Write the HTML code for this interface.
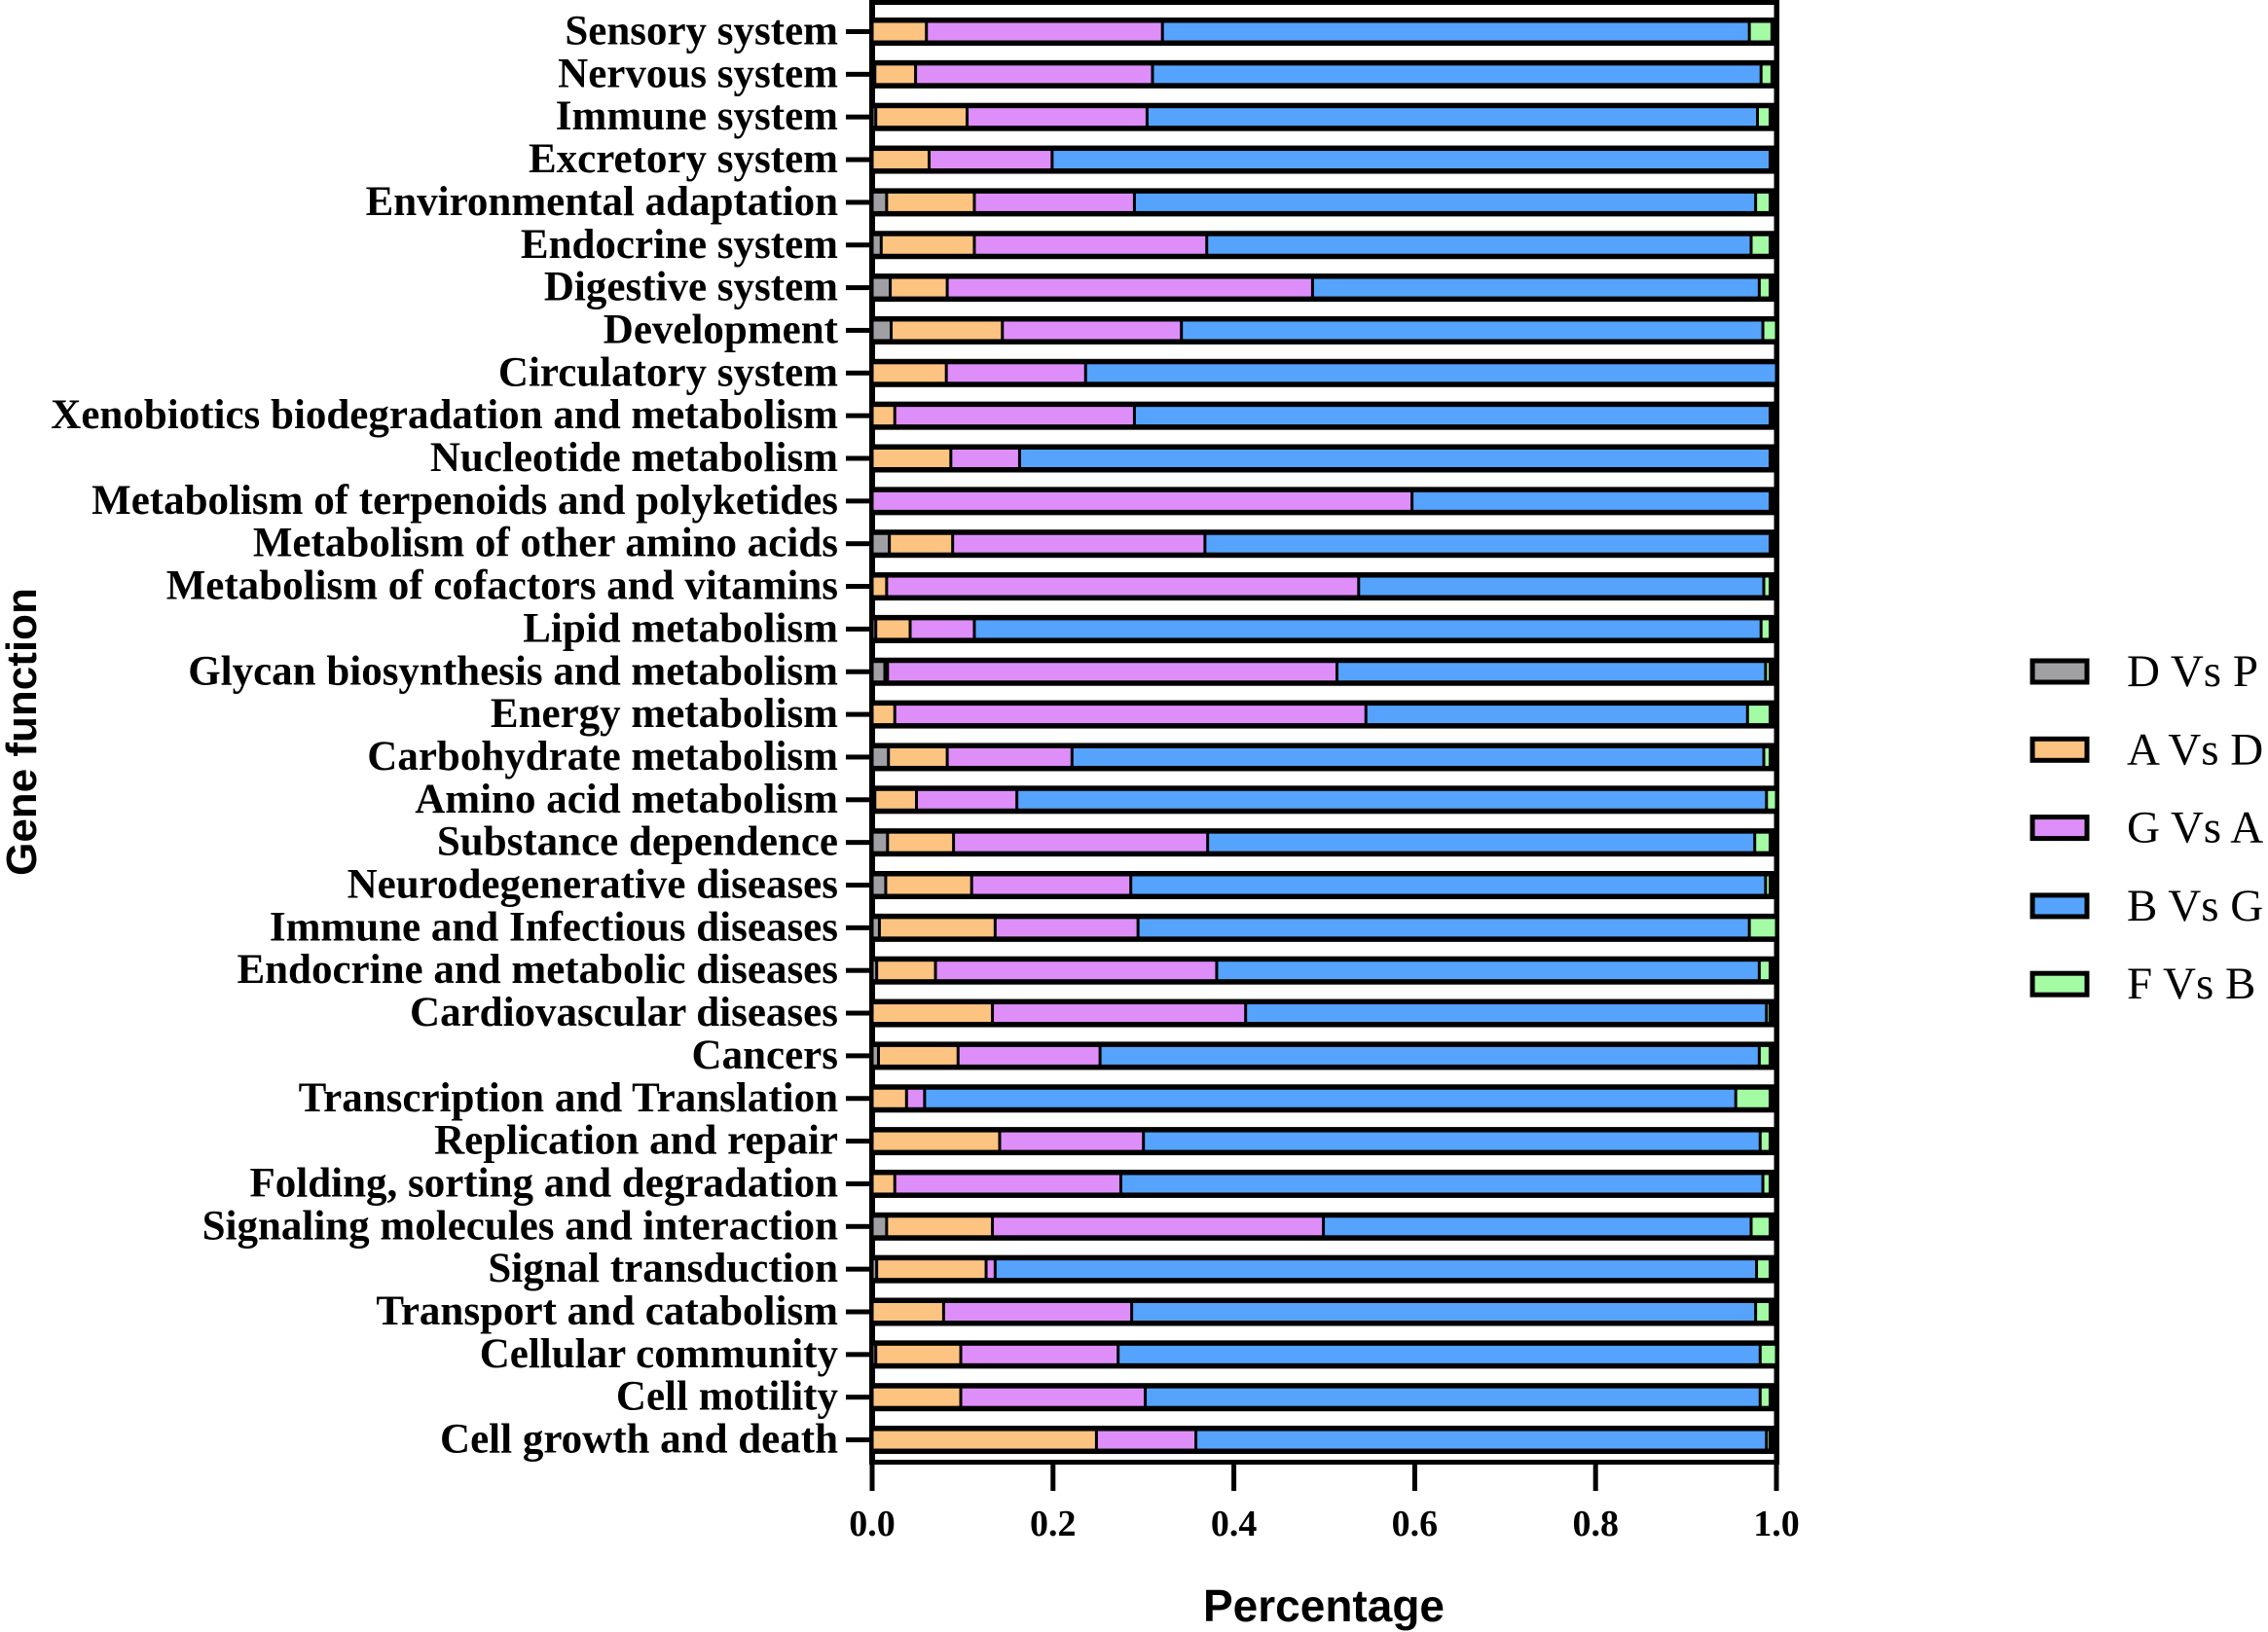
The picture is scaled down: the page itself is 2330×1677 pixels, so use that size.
<!DOCTYPE html>
<html><head><meta charset="utf-8"><style>
html,body{margin:0;padding:0;background:#fff;}
svg{display:block;}
</style></head><body>
<svg id="chart" width="2330" height="1677" viewBox="0 0 2330 1677" xmlns="http://www.w3.org/2000/svg">
<g id="plot"></g>
<g id="yaxis"></g>
<g id="xaxis"></g>
<text x="1360" y="1666" text-anchor="middle" font-family="Liberation Sans, sans-serif" font-weight="bold" font-size="46">Percentage</text>
<text transform="translate(37,752) rotate(-90)" text-anchor="middle" font-family="Liberation Sans, sans-serif" font-weight="bold" font-size="44">Gene function</text>
<g id="legend"></g>
</svg>
<script>
const categories = ["Sensory system","Nervous system","Immune system","Excretory system","Environmental adaptation","Endocrine system","Digestive system","Development","Circulatory system","Xenobiotics biodegradation and metabolism","Nucleotide metabolism","Metabolism of terpenoids and polyketides","Metabolism of other amino acids","Metabolism of cofactors and vitamins","Lipid metabolism","Glycan biosynthesis and metabolism","Energy metabolism","Carbohydrate metabolism","Amino acid metabolism","Substance dependence","Neurodegenerative diseases","Immune and Infectious diseases","Endocrine and metabolic diseases","Cardiovascular diseases","Cancers","Transcription and Translation","Replication and repair","Folding, sorting and degradation","Signaling molecules and interaction","Signal transduction","Transport and catabolism","Cellular community","Cell motility","Cell growth and death"];
const seriesNames = ["D Vs P","A Vs D","G Vs A","B Vs G","F Vs B"];
const dVsP = [0,.003,.004,0,.016,.010,.020,.021,0,0,0,0,.019,0,.004,.014,0,.018,.003,.017,.015,.008,.005,0,.007,0,0,0,.016,.005,0,.004,0,0];
const aVsD = [.060,.045,.101,.063,.097,.103,.063,.123,.082,.025,.087,0,.070,.016,.038,.003,.025,.065,.046,.073,.095,.128,.065,.133,.088,.038,.141,.025,.117,.121,.079,.094,.098,.248];
const gVsA = [.261,.262,.199,.136,.177,.257,.404,.198,.154,.265,.076,.597,.279,.522,.071,.497,.521,.138,.111,.281,.176,.158,.311,.280,.157,.020,.159,.250,.366,.010,.208,.174,.204,.110];
const bVsG = [.649,.673,.675,.794,.687,.602,.494,.643,.764,.703,.830,.396,.625,.448,.870,.474,.422,.765,.829,.605,.702,.676,.600,.576,.729,.897,.682,.710,.473,.842,.690,.710,.680,.631];
const fVsB = [.025,.012,.014,0,.016,.021,.012,.015,0,0,0,0,0,.007,.010,.005,.025,.007,.011,.017,.005,.030,.012,.004,.012,.038,.011,.008,.021,.015,.016,.018,.011,.004];
const xTicks = [0,0.2,0.4,0.6,0.8,1.0];
const xTickLabels = ["0.0","0.2","0.4","0.6","0.8","1.0"];

const colors = ["#a0a0a4","#fdc380","#de8ef8","#55a3fc","#a3fca3"];
const series = [dVsP,aVsD,gVsA,bVsG,fVsB];
const NS = "http://www.w3.org/2000/svg";
const X0 = 896, X1 = 1825;
const xs = v => X0 + v*(X1-X0);
const rowTop = 32.5, rowStep = 43.85;
const ys = i => rowTop + i*rowStep;
function mk(tag, attrs, parent){const e=document.createElementNS(NS,tag);for(const k in attrs)e.setAttribute(k,attrs[k]);parent.appendChild(e);return e;}
const plot = document.getElementById('plot');
const frame = mk('rect',{x:893,y:0,width:935,height:1505,fill:'#000'},plot);


const inner = mk('rect',{x:899,y:5,width:923.5,height:1495,fill:'#fff'},plot);


categories.forEach((c,i)=>{
  const cy = ys(i);
  const row = mk('rect',{x:899,y:cy-14.5,width:923.5,height:29,fill:'#000'},plot);
  
  
  let cum = 0;
  series.forEach((s,k)=>{
    const v = s[i];
    const a = xs(cum)+1.5, b = xs(cum+v)-1.5;
    if (b-a > 0.3){
      const r = mk('rect',{x:a,y:cy-9,width:b-a,height:18,fill:colors[k]},plot);
      
      
    }
    cum += v;
  });
  const t = mk('rect',{x:869,y:cy-2.5,width:25,height:5,fill:'#000'},document.getElementById('yaxis'));
  
  
  const lb = mk('text',{x:861,y:cy+13,'text-anchor':'end','font-family':'Liberation Serif, serif','font-weight':'bold','font-size':'43'},document.getElementById('yaxis'));
  lb.textContent = c;
  
  
});
const xa = document.getElementById('xaxis');
xTicks.forEach((v,i)=>{
  const t = mk('rect',{x:xs(v)-2.5,y:1500,width:5,height:32,fill:'#000'},xa);
  
  
  const l = mk('text',{x:xs(v),y:1578,'text-anchor':'middle','font-family':'Liberation Serif, serif','font-weight':'bold','font-size':'38'},xa);
  l.textContent = xTickLabels[i];
  
  
});
const lg = document.getElementById('legend');
seriesNames.forEach((n,k)=>{
  const cy = 690 + k*80.3;
  const b = mk('rect',{x:2088,y:cy-11,width:56,height:22,fill:colors[k],stroke:'#000','stroke-width':5},lg);
  
  
  const t = mk('text',{x:2185,y:cy+15,'font-family':'Liberation Serif, serif','font-size':'47'},lg);
  t.textContent = n;
  
  
});
</script>
</body></html>
